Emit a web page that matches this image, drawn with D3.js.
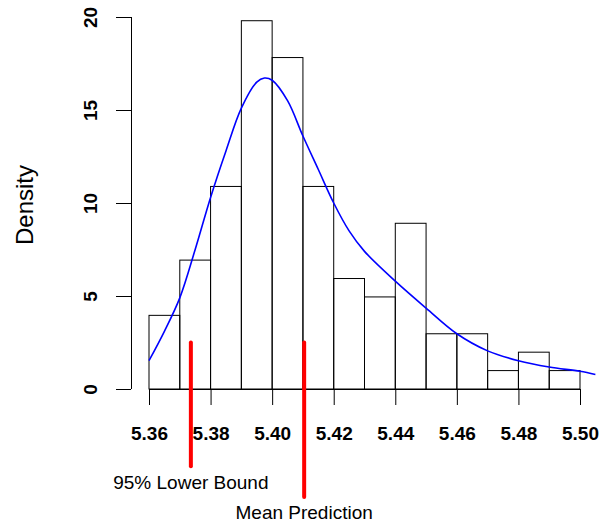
<!DOCTYPE html>
<html>
<head>
<meta charset="utf-8">
<script src="https://cdn.jsdelivr.net/npm/d3@7"></script>
<style>
    body { margin: 0; background: #fff; }
    svg { display: block; font-family: "Liberation Sans", Arial, sans-serif; }
</style>
</head>
<body>
<svg width="599" height="523"></svg>
<script>
'use strict';

// histogram bins (width 0.01) and densities
var binStarts = [5.36, 5.37, 5.38, 5.39, 5.40, 5.41, 5.42, 5.43, 5.44, 5.45, 5.46, 5.47, 5.48, 5.49];
var densities = [3.96, 6.93, 10.89, 19.80, 17.82, 10.89, 5.94, 4.95, 8.91, 2.97, 2.97, 0.99, 1.98, 0.99];

// smoothed density curve
var curveX = [5.360, 5.365, 5.370, 5.375, 5.380, 5.385, 5.390, 5.395, 5.3975, 5.400, 5.405, 5.410,
              5.415, 5.420, 5.425, 5.430, 5.440, 5.450, 5.460, 5.470, 5.480, 5.490, 5.500, 5.505];
var curveY = [1.52, 3.1, 4.9, 7.5, 10.3, 12.8, 15.1, 16.5, 16.72, 16.6, 15.5, 13.6,
              11.8, 10.0, 8.5, 7.4, 5.8, 4.35, 2.97, 2.05, 1.52, 1.18, 0.95, 0.78];

// prediction markers
var markerX = [5.3736, 5.4104];
var markerTop = 2.5;
var markerBottom = [-4.15, -5.8];
var markerLabels = ['95% Lower Bound', 'Mean Prediction'];
var markerLabelY = [-5.4, -7.0];

var xTicks = [5.36, 5.38, 5.40, 5.42, 5.44, 5.46, 5.48, 5.50];
var yTicks = [0, 5, 10, 15, 20];

var svg = d3.select('svg');
var x = d3.scaleLinear().domain([5.36, 5.50]).range([149, 580]);
var y = d3.scaleLinear().domain([0, 20]).range([389, 17]);
var binWidth = 0.01;

// bars
svg.append('g').selectAll('rect')
    .data(binStarts)
    .enter()
    .append('rect')
    .attr('x', function (d) { return x(d); })
    .attr('y', function (d, i) { return y(densities[i]); })
    .attr('width', function (d) { return x(d + binWidth) - x(d); })
    .attr('height', function (d, i) { return y(0) - y(densities[i]); })
    .attr('fill', 'none')
    .attr('stroke', '#000')
    .attr('stroke-width', 1);

// x axis
var xAxis = svg.append('g')
    .attr('transform', 'translate(0,' + y(0) + ')')
    .call(d3.axisBottom(x).tickValues(xTicks).tickSize(16).tickPadding(22)
        .tickFormat(d3.format('.2f')));
xAxis.select('.domain').attr('d', 'M' + x(5.36) + ',0.5H' + x(5.50));
xAxis.selectAll('text')
    .attr('font-size', 19)
    .attr('font-weight', 'bold')
    .attr('font-family', '"Liberation Sans", Arial, sans-serif')
    .attr('fill', '#000');

// y axis
var yAxis = svg.append('g')
    .attr('transform', 'translate(131,0)')
    .call(d3.axisLeft(y).tickValues(yTicks).tickSize(15));
yAxis.select('.domain').attr('d', 'M0.5,' + y(0) + 'V' + y(20));
yAxis.selectAll('text').remove();
yAxis.selectAll('.tick')
    .append('text')
    .attr('transform', 'translate(-34,0) rotate(-90)')
    .attr('text-anchor', 'middle')
    .attr('font-size', 19)
    .attr('font-weight', 'bold')
    .attr('font-family', '"Liberation Sans", Arial, sans-serif')
    .attr('fill', '#000')
    .text(function (d) { return d; });

svg.append('text')
    .attr('transform', 'translate(33,205) rotate(-90)')
    .attr('text-anchor', 'middle')
    .attr('font-size', 24)
    .text('Density');

// density curve
var line = d3.line()
    .x(function (d) { return x(d); })
    .y(function (d, i) { return y(curveY[i]); })
    .curve(d3.curveCatmullRom.alpha(0.5));
svg.append('path')
    .datum(curveX)
    .attr('d', line)
    .attr('fill', 'none')
    .attr('stroke', '#0000ff')
    .attr('stroke-width', 1.6);

// red markers
svg.append('g').selectAll('line')
    .data(markerX)
    .enter()
    .append('line')
    .attr('x1', function (d) { return x(d); })
    .attr('x2', function (d) { return x(d); })
    .attr('y1', y(markerTop))
    .attr('y2', function (d, i) { return y(markerBottom[i]); })
    .attr('stroke', '#ff0000')
    .attr('stroke-width', 4)
    .attr('stroke-linecap', 'round');

svg.append('g').selectAll('text')
    .data(markerX)
    .enter()
    .append('text')
    .attr('x', function (d) { return x(d); })
    .attr('y', function (d, i) { return y(markerLabelY[i]); })
    .attr('text-anchor', 'middle')
    .attr('font-size', 19)
    .text(function (d, i) { return markerLabels[i]; });
</script>
</body>
</html>
